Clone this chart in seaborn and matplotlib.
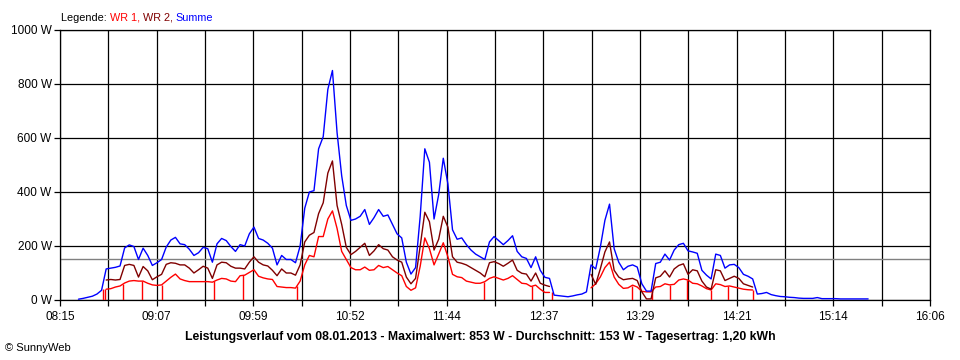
import numpy as np
import pandas as pd
import matplotlib
matplotlib.use("Agg")
import matplotlib.pyplot as plt
import seaborn as sns
from matplotlib.offsetbox import TextArea, HPacker, AnchoredOffsetbox

# ---------------- data ----------------
N = None
# sample times: minutes after midnight, every 2.5 min starting 08:25
times = np.arange(172) * 2.5 + 505.0

summe = [3, 6, 10, 14, 22, 36, 115, 118, 121, 126,
         193, 204, 198, 150, 192, 165, 128, 138, 150, 196,
         222, 232, 208, 205, 188, 165, 175, 195, 190, 140,
         208, 228, 220, 198, 180, 205, 200, 245, 270, 228,
         222, 210, 192, 130, 165, 150, 150, 138, 200, 340,
         400, 405, 560, 605, 780, 850, 620, 460, 350, 295,
         300, 310, 335, 280, 305, 335, 310, 315, 280, 245,
         230, 140, 96, 120, 310, 560, 510, 300, 390, 525,
         430, 260, 225, 230, 205, 185, 170, 160, 150, 215,
         235, 220, 205, 220, 238, 180, 160, 154, 120, 160,
         110, 84, 80, 18, 16, 14, 12, 15, 19, 22,
         30, 130, 115, 195, 295, 355, 190, 140, 112, 125,
         130, 122, 60, 33, 33, 135, 140, 170, 148, 185,
         205, 210, 182, 178, 173, 110, 92, 78, 170, 165,
         118, 130, 132, 120, 95, 88, 78, 22, 24, 28,
         20, 16, 13, 12, 10, 9, 7, 6, 6, 6,
         9, 5, 5, 5, 5, 4, 4, 4, 4, 4, 4, 4]

wr2 = [N, N, N, N, N, N, 74, 76, 74, 76,
       128, 132, 128, 85, 124, 108, 75, 86, 95, 132,
       138, 136, 130, 130, 118, 100, 112, 125, 118, 80,
       130, 140, 138, 125, 118, 118, 115, 140, 160, 140,
       130, 126, 110, 90, 115, 100, 100, 92, 130, 215,
       240, 250, 320, 360, 470, 515, 350, 280, 195, 168,
       180, 195, 210, 165, 182, 205, 190, 185, 160, 148,
       140, 85, 60, 80, 200, 325, 290, 185, 225, 310,
       270, 160, 140, 136, 130, 120, 110, 100, 86, 138,
       142, 135, 125, 136, 148, 110, 99, 96, 70, 100,
       62, 55, 50, N, N, N, N, N, N, N,
       N, 95, 58, 115, 178, 215, 110, 85, 75, 78,
       80, 72, 30, 4, 4, 82, 88, 108, 85, 115,
       128, 134, 95, 112, 108, 70, 48, 40, 112, 108,
       72, 80, 88, 80, 60, 54, 48, N, N, N,
       N, N, N, N, N, N, N, N, N, N,
       N, N, N, N, N, N, N, N, N, N, N, N]

wr1 = [N, N, N, N, N, N, 40, 42, 48, 52,
       63, 70, 72, 70, 70, 62, 56, 54, 56, 70,
       84, 96, 78, 72, 68, 68, 68, 68, 68, 66,
       74, 80, 78, 70, 68, 90, 92, 102, 112, 88,
       82, 78, 76, 50, 48, 46, 46, 44, 70, 130,
       165, 160, 235, 235, 300, 330, 265, 180, 150, 120,
       112, 112, 122, 110, 112, 128, 120, 124, 112, 100,
       90, 50, 36, 45, 125, 230, 190, 130, 170, 212,
       160, 95, 86, 83, 70, 66, 62, 62, 68, 80,
       86, 80, 74, 80, 90, 76, 62, 60, 50, 55,
       40, 28, 28, N, N, N, N, N, N, N,
       N, 45, 60, 85, 120, 140, 85, 58, 43, 45,
       55, 48, 32, 30, 30, 48, 50, 60, 56, 58,
       74, 78, 74, 62, 60, 52, 42, 37, 60, 57,
       50, 52, 48, 44, 40, 38, 37, N, N, N,
       N, N, N, N, N, N, N, N, N, N,
       N, N, N, N, N, N, N, N, N, N, N, N]

# momentary drop-outs of WR 1 to 0 W (minutes after midnight)
wr1_dropouts = [518.1, 519.1, 529.1, 539.6, 550.2, 578.6, 594.0, 623.2,
                724.4, 750.6, 761.2, 804.4, 815.3, 825.0, 834.7, 847.2,
                856.4, 870.4]

series_names = ["WR 1", "WR 2", "Summe"]
series_colors = ["#ff0000", "#800000", "#0000ff"]
average_w = 153
x_tick_labels = ["08:15", "09:07", "09:59", "10:52", "11:44",
                 "12:37", "13:29", "14:21", "15:14", "16:06"]
y_ticks = [0, 200, 400, 600, 800, 1000]
title = ("Leistungsverlauf vom 08.01.2013 - Maximalwert: 853 W - "
         "Durchschnitt: 153 W - Tagesertrag: 1,20 kWh")

# ---------------- figure ----------------
sns.set_theme(style="white")
plt.rcParams["font.family"] = ["Liberation Sans", "DejaVu Sans"]

fig = plt.figure(figsize=(9.6, 3.6), dpi=100)
fig.patch.set_facecolor("white")
ax = fig.add_axes([60 / 960, 60 / 360, 870 / 960, 270 / 360])
ax.set_facecolor("white")


def long_frame(vals):
    v = np.array([np.nan if a is None else a for a in vals], dtype=float)
    seg = np.cumsum(np.isnan(v))
    df = pd.DataFrame({"t": times, "W": v, "seg": seg})
    return df.dropna()


for name, vals, col in zip(series_names, [wr1, wr2, summe], series_colors):
    df = long_frame(vals)
    sns.lineplot(data=df, x="t", y="W", units="seg", estimator=None,
                 sort=False, color=col, linewidth=1.0, ax=ax, legend=False,
                 zorder=3)
    if name == "WR 1":
        v = np.array([np.nan if a is None else a for a in vals], dtype=float)
        ok = ~np.isnan(v)
        tops = np.interp(wr1_dropouts, times[ok], v[ok])
        ax.vlines(wr1_dropouts, 0, tops, color=col, linewidth=1.0, zorder=3)

ax.axhline(average_w, color="#808080", linewidth=1.0, zorder=2)

t0, t1 = 495, 966
major = np.linspace(t0, t1, len(x_tick_labels))
minor = (major[:-1] + major[1:]) / 2
ax.set_xlim(t0, t1)
ax.set_ylim(0, 1000)
ax.set_xticks(major)
ax.set_xticklabels(x_tick_labels)
ax.set_xticks(minor, minor=True)
ax.set_yticks(y_ticks)
ax.set_yticklabels([f"{v} W" for v in y_ticks])
ax.set_xlabel("")
ax.set_ylabel("")

ax.grid(True, which="both", color="black", linewidth=0.9)
ax.set_axisbelow(True)
for s in ax.spines.values():
    s.set_color("black")
    s.set_linewidth(0.9)

ax.tick_params(axis="both", which="both", direction="out", length=4,
               width=0.9, color="black", labelsize=8.5, labelcolor="black")
ax.tick_params(axis="x", which="both", bottom=True, pad=4)
ax.tick_params(axis="y", which="both", left=True, pad=2)

# title at bottom
fig.text(480 / 960, 1 - 337 / 360, title, ha="center", va="center",
         fontsize=8.8, fontweight="bold", color="black")
fig.text(5 / 960, 1 - 348 / 360, "\u00a9 SunnyWeb", ha="left", va="center",
         fontsize=8, color="black")

# multi-coloured legend line at the top
parts = [TextArea("Legende: ", textprops=dict(color="black", size=7.8))]
for i, (name, col) in enumerate(zip(series_names, series_colors)):
    label = name + (", " if i < len(series_names) - 1 else "")
    parts.append(TextArea(label, textprops=dict(color=col, size=7.8)))
pack = HPacker(children=parts, align="baseline", pad=0, sep=0)
anch = AnchoredOffsetbox(loc="lower left", child=pack, pad=0, borderpad=0,
                         frameon=False,
                         bbox_to_anchor=(61 / 960, 1 - 23 / 360),
                         bbox_transform=fig.transFigure)
fig.add_artist(anch)

fig.savefig("out.png", dpi=100, facecolor="white")
